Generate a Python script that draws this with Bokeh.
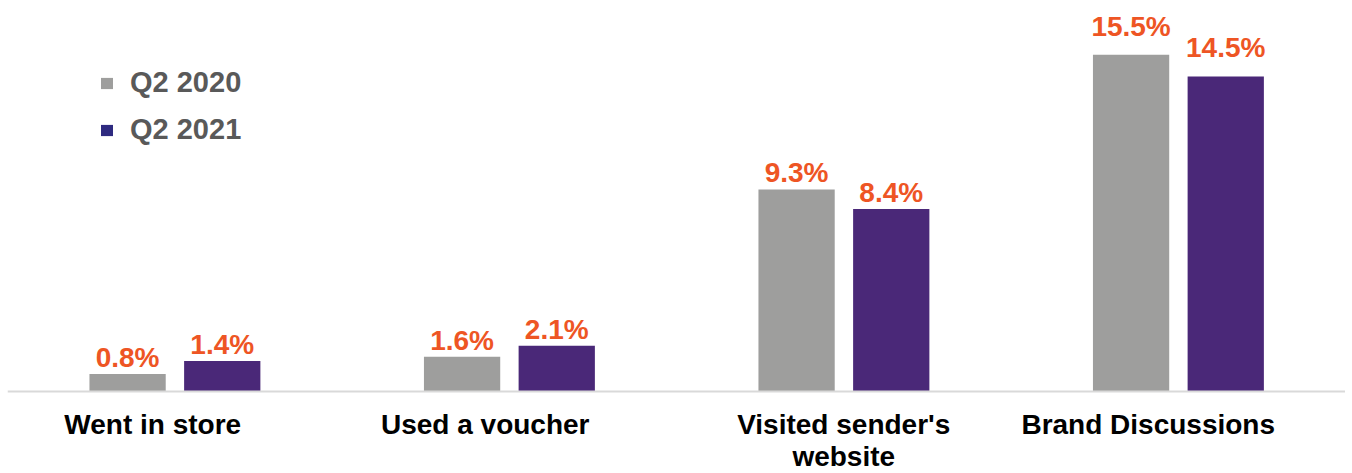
import numpy as np
from bokeh.plotting import figure
from bokeh.models import (ColumnDataSource, Legend, LegendItem, LabelSet, Span, FactorRange)
from bokeh.core.properties import value
from bokeh.transform import dodge
from bokeh.embed import file_html
from bokeh.resources import INLINE

categories = ["Went in store", "Used a voucher", "Visited sender's website", "Brand Discussions"]
label_line1 = ["Went in store", "Used a voucher", "Visited sender's", "Brand Discussions"]
label_line2 = ["", "", "website", ""]
series_names = ["Q2 2020", "Q2 2021"]
q2_2020 = [0.8, 1.6, 9.3, 15.5]
q2_2021 = [1.4, 2.1, 8.4, 14.5]

# styling: horizontal nudges (px) of the category captions
caption_dx = [-22, -24, 0, -30]

GRAY = "#9E9E9D"
PURPLE = "#4A2878"
LEGEND_PURPLE = "#2E2A80"
ORANGE = "#EE5524"
FONT = value("Liberation Sans")

PX_PER_UNIT = 21.73
H = 473
BASE_Y = 391  # pixel row of the zero line

p = figure(x_range=FactorRange(factors=categories, range_padding=0),
           y_range=(-(H - BASE_Y) / PX_PER_UNIT, BASE_Y / PX_PER_UNIT), width=1345, height=H,
           output_backend="svg", toolbar_location=None, y_axis_location=None,
           x_axis_location=None,
           min_border_left=7, min_border_right=0, min_border_top=0, min_border_bottom=0)

src = ColumnDataSource(dict(cat=categories, a=q2_2020, b=q2_2021))

p.vbar(x=dodge("cat", -0.141, range=p.x_range), top="a", bottom=0, width=0.228, source=src,
       fill_color=GRAY, line_color=None)
p.vbar(x=dodge("cat", 0.142, range=p.x_range), top="b", bottom=0, width=0.228, source=src,
       fill_color=PURPLE, line_color=None)

# baseline (category axis line)
p.add_layout(Span(location=0, dimension="width", line_color="#D9D9D9", line_width=2))

def label_pos(vals):
    v = np.array(vals)
    return list(np.where(v == v.max(), 19, 7) / PX_PER_UNIT + v)

lsrc = ColumnDataSource(dict(cat=categories, ya=label_pos(q2_2020), yb=label_pos(q2_2021),
                             la=[f"{v:.1f}%" for v in q2_2020],
                             lb=[f"{v:.1f}%" for v in q2_2021],
                             y0=[0] * len(categories), c1=label_line1, c2=label_line2,
                             dx=caption_dx))
for xo, ycol, tcol in [(-0.141, "ya", "la"), (0.142, "yb", "lb")]:
    p.add_layout(LabelSet(x=dodge("cat", xo, range=p.x_range), y=ycol, text=tcol, source=lsrc,
                          text_align="center", text_baseline="alphabetic",
                          text_font=FONT, text_font_style="bold", text_font_size="28px",
                          text_color=ORANGE))

# category captions (two lines)
for col, off in [("c1", -42), ("c2", -74)]:
    p.add_layout(LabelSet(x="cat", y="y0", text=col, source=lsrc, x_offset="dx", y_offset=off,
                          text_align="center", text_baseline="alphabetic",
                          text_font=FONT, text_font_style="bold", text_font_size="28px",
                          text_color="#000000"))

# legend proxies (zero-height bars)
proxy = ColumnDataSource(dict(x=[categories[0]], top=[0]))
r1 = p.vbar(x="x", top="top", bottom=0, width=0.2, source=proxy, fill_color=GRAY, line_color=None)
r2 = p.vbar(x="x", top="top", bottom=0, width=0.2, source=proxy, fill_color=LEGEND_PURPLE, line_color=None)
legend = Legend(items=[LegendItem(label=series_names[0], renderers=[r1]),
                       LegendItem(label=series_names[1], renderers=[r2])],
                location=(92, 245 + (H - BASE_Y)), orientation="vertical",
                glyph_width=15, glyph_height=14, label_standoff=16, spacing=14,
                padding=0, margin=0, border_line_color=None, background_fill_alpha=0,
                label_text_font="Liberation Sans", label_text_font_style="bold",
                label_text_font_size="29px", label_text_color="#595959")
p.add_layout(legend)

p.xgrid.grid_line_color = None
p.ygrid.grid_line_color = None
p.outline_line_color = None

open("out.html", "w").write(file_html(p, INLINE))
